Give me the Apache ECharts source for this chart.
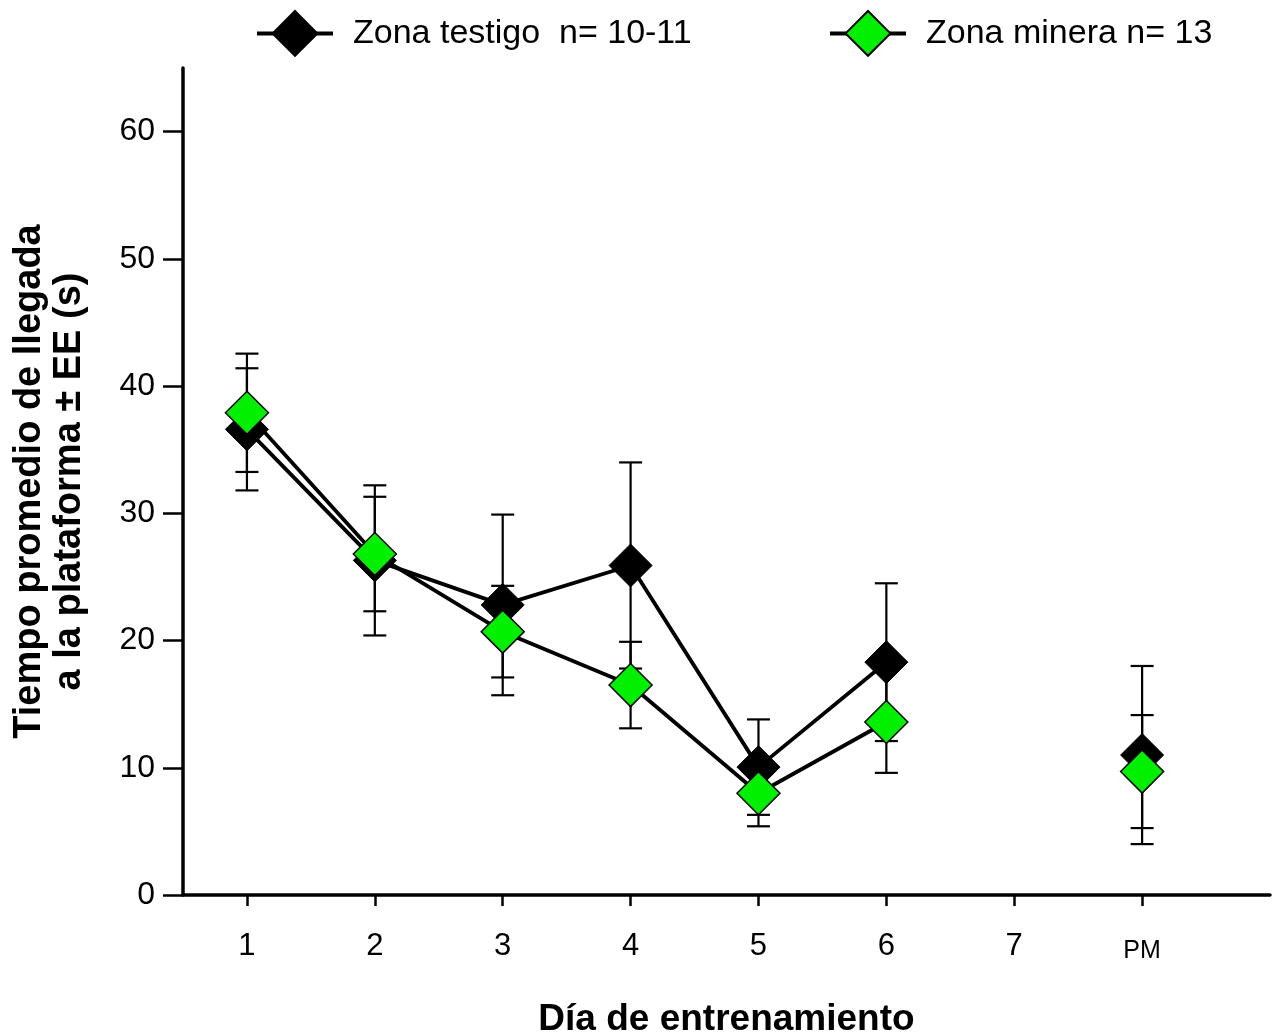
<!DOCTYPE html>
<html>
<head>
<meta charset="utf-8">
<script src="https://cdn.jsdelivr.net/npm/echarts@6/dist/echarts.min.js"></script>
<style>
html,body{margin:0;padding:0;background:#fff;}
#chart{width:1275px;height:1036px;}
</style>
</head>
<body>
<div id="chart"></div>
<script>
// ---- data ----
const days = [1, 2, 3, 4, 5, 6, 7, 8];
const tickLabels = ['1', '2', '3', '4', '5', '6', '7', 'PM'];
const yTicks = [0, 10, 20, 30, 40, 50, 60];
const seriesNames = ['Zona testigo  n= 10-11', 'Zona minera n= 13'];
const testigoMean = [36.6, 26.3, 22.8, 25.9, 10.05, 18.3, null, 11.0];
const testigoSE   = [4.8, 5.9, 7.1, 8.1, 3.75, 6.2, null, 7.0];
const mineraMean  = [37.9, 26.8, 20.7, 16.5, 8.0, 13.6, null, 9.7];
const mineraSE    = [4.65, 4.5, 3.6, 3.4, 2.6, 4.0, null, 4.44];

const FONT = 'Liberation Sans, Arial, sans-serif';

function linePoints(mean) {
  return days.map((d, i) => [d, mean[i] == null ? '-' : mean[i]]);
}
function errPoints(mean, se) {
  const out = [];
  days.forEach((d, i) => {
    if (mean[i] != null) out.push([d, mean[i] - se[i], mean[i] + se[i]]);
  });
  return out;
}
function errRender(params, api) {
  const x = api.value(0);
  const lo = api.coord([x, api.value(1)]);
  const hi = api.coord([x, api.value(2)]);
  const hw = 11.5;
  const style = { stroke: '#000', lineWidth: 2.2 };
  return {
    type: 'group',
    children: [
      { type: 'line', shape: { x1: hi[0], y1: hi[1], x2: lo[0], y2: lo[1] }, style },
      { type: 'line', shape: { x1: hi[0] - hw, y1: hi[1], x2: hi[0] + hw, y2: hi[1] }, style },
      { type: 'line', shape: { x1: lo[0] - hw, y1: lo[1], x2: lo[0] + hw, y2: lo[1] }, style }
    ]
  };
}

const legendCommon = {
  top: 5, itemWidth: 76, itemHeight: 56, itemGap: 20,
  lineStyle: { width: 4, color: '#000' },
  textStyle: { fontSize: 34, color: '#000', fontFamily: FONT, padding: [0, 0, 0, 15] }
};

const chart = echarts.init(document.getElementById('chart'), null, { renderer: 'canvas' });
chart.setOption({
  animation: false,
  backgroundColor: '#fff',
  textStyle: { fontFamily: FONT },
  grid: { left: 183, right: 5, top: 68, bottom: 141, containLabel: false, outerBoundsMode: 'none' },
  legend: [
    Object.assign({ data: [seriesNames[0]], left: 250 }, legendCommon),
    Object.assign({ data: [seriesNames[1]], left: 823 }, legendCommon)
  ],
  xAxis: {
    type: 'value', min: 0.5, max: 9,
    name: 'Día de entrenamiento', nameLocation: 'middle', nameGap: 106,
    nameTextStyle: { fontSize: 37, fontWeight: 'bold', color: '#000', fontFamily: FONT },
    axisLine: { onZero: false, lineStyle: { color: '#000', width: 3.5 } },
    axisTick: { show: true, customValues: days, length: 11, lineStyle: { color: '#000', width: 2.5 } },
    axisLabel: {
      customValues: days, margin: 36, color: '#000', fontSize: 31, fontFamily: FONT,
      formatter: function (v) {
        const lab = tickLabels[Math.round(v) - 1];
        return lab === 'PM' ? '{pm|PM}' : lab;
      },
      rich: { pm: { fontSize: 25, color: '#000', fontFamily: FONT, padding: [8, 0, 0, 0] } }
    },
    splitLine: { show: false }
  },
  yAxis: {
    type: 'value', min: 0, max: 65,
    name: 'Tiempo promedio de llegada\na la plataforma ± EE (s)',
    nameLocation: 'middle', nameGap: 93, nameRotate: 90,
    nameTextStyle: { fontSize: 38, fontWeight: 'bold', color: '#000', fontFamily: FONT, lineHeight: 40, align: 'center' },
    axisLine: { show: true, lineStyle: { color: '#000', width: 3.5 } },
    axisTick: { show: true, customValues: yTicks, length: 20, lineStyle: { color: '#000', width: 2.5 } },
    axisLabel: { customValues: yTicks, margin: 28, color: '#000', fontSize: 32, fontFamily: FONT },
    splitLine: { show: false }
  },
  series: [
    {
      type: 'custom', name: 'errTestigo', renderItem: errRender,
      data: errPoints(testigoMean, testigoSE), encode: { x: 0, y: [1, 2] }, z: 1, silent: true
    },
    {
      type: 'custom', name: 'errMinera', renderItem: errRender,
      data: errPoints(mineraMean, mineraSE), encode: { x: 0, y: [1, 2] }, z: 1, silent: true
    },
    {
      type: 'line', name: seriesNames[0], data: linePoints(testigoMean),
      connectNulls: false, symbol: 'diamond', symbolSize: 43,
      lineStyle: { color: '#000', width: 3.8 },
      itemStyle: { color: '#000', borderColor: '#000', borderWidth: 1 },
      z: 2
    },
    {
      type: 'line', name: seriesNames[1], data: linePoints(mineraMean),
      connectNulls: false, symbol: 'diamond', symbolSize: 43,
      lineStyle: { color: '#000', width: 3.8 },
      itemStyle: { color: '#00f000', borderColor: '#000', borderWidth: 1.5 },
      z: 3
    }
  ]
});
</script>
</body>
</html>
